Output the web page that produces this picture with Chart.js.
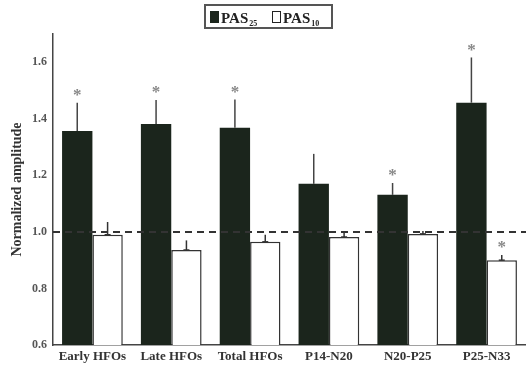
<!DOCTYPE html>
<html>
<head>
<meta charset="utf-8">
<script src="https://cdn.jsdelivr.net/npm/chart.js@4"></script>
<style>
    html, body { margin: 0; padding: 0; background: #fff; }
    #wrap { width: 526px; height: 367px; }
</style>
</head>
<body>
<div id="wrap"><canvas id="ampChart" width="526" height="367"></canvas></div>
<script>
/* ============ DATOS ============ */

const categories = ["Early HFOs", "Late HFOs", "Total HFOs", "P14-N20", "N20-P25", "P25-N33"];
const pas25 = [1.357, 1.382, 1.368, 1.17, 1.131, 1.457];
const pas25Err = [0.10, 0.085, 0.10, 0.106, 0.042, 0.16];
const pas10 = [0.99, 0.936, 0.965, 0.982, 0.993, 0.90];
const pas10Err = [0.045, 0.034, 0.025, 0.018, 0.01, 0.018];
const pas25Sig = [true, true, true, false, true, true];
const pas10Sig = [false, false, false, false, false, true];
const yTicks = [0.6, 0.8, 1.0, 1.2, 1.4, 1.6];
const baseline = 1.0;

const DARK = "#1b251c";
const INK = "#333";
const SERIF = "'Liberation Serif', 'DejaVu Serif', serif";

/* ============ PLUGINS ============ */

const errorBarsPlugin = {
    id: "errorBars",
    afterDatasetsDraw(chart) {
        const ctx = chart.ctx;
        const y = chart.scales.y;
        const errs = [pas25Err, pas10Err];
        const sigs = [pas25Sig, pas10Sig];
        ctx.save();
        chart.data.datasets.forEach((ds, di) => {
            const meta = chart.getDatasetMeta(di);
            meta.data.forEach((bar, i) => {
                const top = y.getPixelForValue(ds.data[i] + errs[di][i]);
                ctx.strokeStyle = di === 0 ? "#444" : "#333";
                ctx.lineWidth = 1.5;
                ctx.beginPath();
                ctx.moveTo(bar.x, bar.y);
                ctx.lineTo(bar.x, top);
                ctx.stroke();
                if (di === 1) {
                    ctx.beginPath();
                    ctx.moveTo(bar.x - 3, bar.y);
                    ctx.lineTo(bar.x + 3, bar.y);
                    ctx.stroke();
                }
                if (sigs[di][i]) {
                    ctx.fillStyle = "#888";
                    ctx.font = "bold 17px " + SERIF;
                    ctx.textAlign = "center";
                    ctx.textBaseline = "middle";
                    ctx.fillText("*", bar.x, top - 7);
                }
            });
        });
        ctx.restore();
    }
};

const baselinePlugin = {
    id: "baseline",
    afterDatasetsDraw(chart) {
        const ctx = chart.ctx;
        const area = chart.chartArea;
        const yPx = chart.scales.y.getPixelForValue(baseline);
        ctx.save();
        ctx.strokeStyle = "#333";
        ctx.lineWidth = 2;
        ctx.setLineDash([7, 5]);
        ctx.beginPath();
        ctx.moveTo(area.left, yPx);
        ctx.lineTo(chart.width, yPx);
        ctx.stroke();
        ctx.restore();
    }
};

function drawPas(ctx, x, sub) {
    ctx.font = "bold 15px " + SERIF;
    ctx.fillText("PAS", x, 23);
    const w = ctx.measureText("PAS").width;
    ctx.font = "bold 8px " + SERIF;
    ctx.fillText(sub, x + w + 1, 26);
}

const legendPlugin = {
    id: "boxLegend",
    afterDraw(chart) {
        const ctx = chart.ctx;
        ctx.save();
        ctx.strokeStyle = "#555";
        ctx.lineWidth = 2;
        ctx.strokeRect(205, 5, 127, 23);
        ctx.fillStyle = DARK;
        ctx.fillRect(210, 11, 9, 12);
        ctx.lineWidth = 1;
        ctx.strokeStyle = "#222";
        ctx.strokeRect(272.5, 11.5, 8, 11);
        ctx.fillStyle = "#222";
        ctx.textBaseline = "alphabetic";
        ctx.textAlign = "left";
        drawPas(ctx, 221, "25");
        drawPas(ctx, 283, "10");
        ctx.restore();
    }
};

/* ============ GRAFICO ============ */

function initAmplitudeChart() {
    const canvas = document.getElementById("ampChart");
    new Chart(canvas, {
        type: "bar",
        data: {
            labels: categories,
            datasets: [
                {
                    label: "PAS25",
                    data: pas25,
                    backgroundColor: DARK,
                    borderColor: DARK,
                    borderWidth: 0,
                    barPercentage: 1,
                    categoryPercentage: 0.77
                },
                {
                    label: "PAS10",
                    data: pas10,
                    backgroundColor: "#fff",
                    borderColor: "#333",
                    borderWidth: 1.5,
                    barPercentage: 1,
                    categoryPercentage: 0.77
                }
            ]
        },
        options: {
            responsive: false,
            animation: false,
            layout: { padding: { top: 34, right: -7, bottom: 0, left: 0 } },
            plugins: {
                legend: { display: false },
                tooltip: { enabled: false }
            },
            scales: {
                x: {
                    grid: { display: false, drawTicks: false },
                    border: { color: "#444", width: 1.5 },
                    ticks: {
                        color: INK,
                        padding: 4,
                        maxRotation: 0,
                        autoSkip: false,
                        font: { family: SERIF, size: 13, weight: "bold" }
                    },
                    afterFit: s => { s.height = 22; }
                },
                y: {
                    min: 0.6,
                    max: 1.7,
                    afterBuildTicks: s => { s.ticks = yTicks.map(v => ({ value: v })); },
                    grid: { display: false, drawTicks: true, tickLength: 4 },
                    border: { color: "#444", width: 1.5 },
                    ticks: {
                        color: "#555",
                        padding: 2,
                        font: { family: SERIF, size: 12, weight: "bold" },
                        callback: v => v.toFixed(1)
                    },
                    title: {
                        display: true,
                        text: "Normalized amplitude",
                        color: INK,
                        padding: { top: 9, bottom: 0 },
                        font: { family: SERIF, size: 14, weight: "bold" }
                    },
                    afterFit: s => { s.width = 53; }
                }
            }
        },
        plugins: [errorBarsPlugin, baselinePlugin, legendPlugin]
    });
}

document.addEventListener("DOMContentLoaded", initAmplitudeChart);
</script>
</body>
</html>
